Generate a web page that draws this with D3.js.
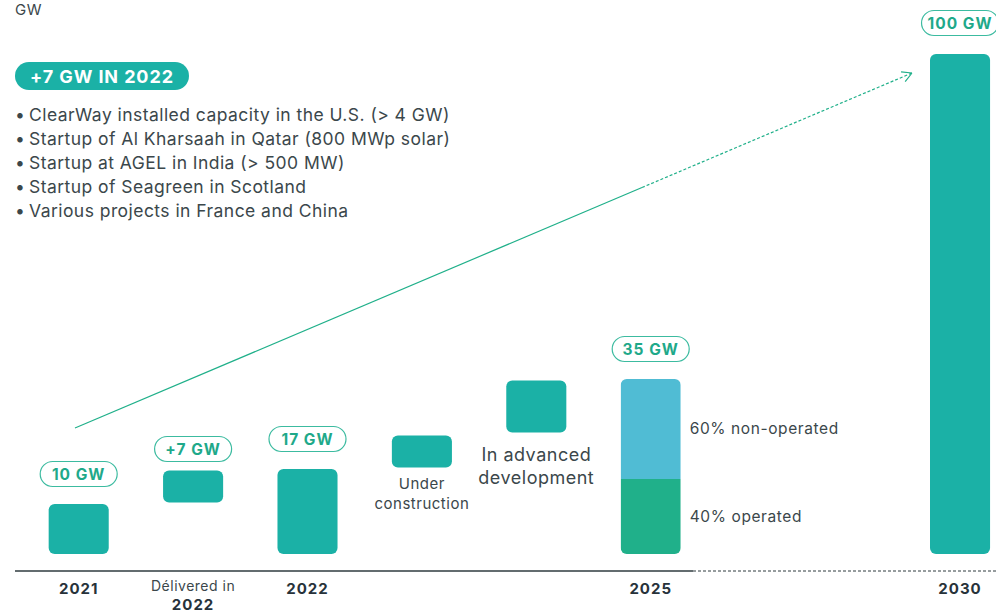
<!DOCTYPE html>
<html>
<head>
<meta charset="utf-8">
<script src="https://cdn.jsdelivr.net/npm/d3@7"></script>
<style>
  body { margin: 0; background: #fff; }
  text { font-family: Inter, "Open Sans", sans-serif; letter-spacing: 0.5px; }
</style>
</head>
<body>
<script>
// Chart data
var categories = ["2021", "Délivered in 2022", "2022", "Under construction", "In advanced development", "2025"];
var startGW = [0, 10, 0, 17, 24, 0];
var endGW = [10, 17, 17, 24, 35, 35];
var pillLabels = ["10 GW", "+7 GW", "17 GW", "", "", "35 GW"];
var axisLabels = [["2021"], ["Délivered in", "2022"], ["2022"], [], [], ["2025"]];
var boxLabels = [[], [], [], ["Under", "construction"], ["In advanced", "development"], []];

var targetLabel = "2030";
var targetGW = 100;
var targetPill = "100 GW";

// 2025 split
var splitNames = ["40% operated", "60% non-operated"];
var splitGW = [15, 20];

var headline = "+7 GW IN 2022";
var highlights = [
  "ClearWay installed capacity in the U.S. (> 4 GW)",
  "Startup of Al Kharsaah in Qatar (800 MWp solar)",
  "Startup at AGEL in India (> 500 MW)",
  "Startup of Seagreen in Scotland",
  "Various projects in France and China"
];

var svgWidth = 996;
var svgHeight = 614;

var teal = "#1bb1a6", blue = "#50bcd4", green = "#20b08a", pillText = "#1fa98a", grey = "#3b474b";

var svg = d3.select("body")
            .append("svg")
            .attr("width", svgWidth)
            .attr("height", svgHeight);

// Scales
var yScale = d3.scaleLinear().domain([0, 100]).range([554, 54]);

var xScale = d3.scaleBand()
               .domain(categories)
               .range([21.5, 21.5 + 6 * 114.4])
               .paddingInner(0.475)
               .paddingOuter(0.2375);

var barW = xScale.bandwidth();
var x2030 = 930;
var gap = 1.5;

// Unit label
svg.append("text")
   .attr("x", 15).attr("y", 15)
   .attr("font-size", 15).attr("fill", grey)
   .text("GW");

// Headline pill
svg.append("rect")
   .attr("x", 15).attr("y", 62).attr("width", 174).attr("height", 28)
   .attr("rx", 14).attr("fill", teal);
svg.append("text")
   .attr("x", 102).attr("y", 82.5)
   .attr("text-anchor", "middle")
   .attr("font-size", 18).attr("font-weight", "bold").attr("fill", "#fff")
   .style("letter-spacing", "0.9px")
   .text(headline);

// Bullet list
var bullets = svg.append("g").selectAll("g")
                 .data(highlights).enter().append("g")
                 .attr("transform", (d, i) => `translate(0, ${121 + i * 24})`);
bullets.append("text").attr("x", 15).attr("font-size", 17.5).attr("fill", grey).text("•");
bullets.append("text").attr("x", 29).attr("font-size", 17.5).attr("fill", grey)
       .style("letter-spacing", "0.45px").text(d => d);

// Trend arrow
var arrowStart = [75, 428], arrowEnd = [912, 73], dashFrom = 642;
var slope = (arrowEnd[1] - arrowStart[1]) / (arrowEnd[0] - arrowStart[0]);
var dashY = arrowStart[1] + slope * (dashFrom - arrowStart[0]);
svg.append("line")
   .attr("x1", arrowStart[0]).attr("y1", arrowStart[1])
   .attr("x2", dashFrom).attr("y2", dashY)
   .attr("stroke", green).attr("stroke-width", 1.2);
svg.append("line")
   .attr("x1", dashFrom).attr("y1", dashY)
   .attr("x2", arrowEnd[0]).attr("y2", arrowEnd[1])
   .attr("stroke", green).attr("stroke-width", 1.2)
   .attr("stroke-dasharray", "3,2");
var ang = Math.atan2(arrowEnd[1] - arrowStart[1], arrowEnd[0] - arrowStart[0]);
var head = d3.path();
[ -0.5, 0.5 ].forEach(function(o) {
  head.moveTo(arrowEnd[0] - 11 * Math.cos(ang + o), arrowEnd[1] - 11 * Math.sin(ang + o));
  head.lineTo(arrowEnd[0], arrowEnd[1]);
});
svg.append("path").attr("d", head.toString())
   .attr("fill", "none").attr("stroke", green).attr("stroke-width", 1.2);

// Bars
var bars = categories.map((c, i) => ({ cat: c, s: startGW[i], e: endGW[i], pill: pillLabels[i],
                                        axis: axisLabels[i], box: boxLabels[i] }));

svg.selectAll(".bar")
   .data(bars.filter(d => d.cat !== "2025"))
   .enter().append("rect")
   .attr("class", "bar")
   .attr("x", d => xScale(d.cat))
   .attr("y", d => yScale(d.e) + (d.s > 0 ? gap : 0))
   .attr("width", barW)
   .attr("height", d => yScale(d.s) - yScale(d.e) - (d.s > 0 ? 2 * gap : 0))
   .attr("rx", 6)
   .attr("fill", teal);

// 2025 stacked bar
var x2025 = xScale("2025");
var clip = svg.append("clipPath").attr("id", "clip2025")
              .append("rect")
              .attr("x", x2025).attr("y", yScale(35))
              .attr("width", barW).attr("height", yScale(0) - yScale(35))
              .attr("rx", 6);
var stackData = [];
var acc = 0;
splitGW.forEach(function(v, i) { stackData.push({ name: splitNames[i], s: acc, e: acc + v }); acc += v; });
svg.append("g").attr("clip-path", "url(#clip2025)")
   .selectAll("rect").data(stackData).enter().append("rect")
   .attr("x", x2025)
   .attr("y", d => yScale(d.e))
   .attr("width", barW)
   .attr("height", d => yScale(d.s) - yScale(d.e))
   .attr("fill", (d, i) => i === 0 ? green : blue);
svg.selectAll(".split-label").data(stackData).enter().append("text")
   .attr("x", x2025 + barW + 9)
   .attr("y", d => (yScale(d.s) + yScale(d.e)) / 2 + 5)
   .attr("font-size", 15.5).attr("fill", grey)
   .style("letter-spacing", "0.6px")
   .text(d => d.name);

// 2030 bar
svg.append("rect")
   .attr("x", x2030).attr("y", yScale(targetGW))
   .attr("width", barW).attr("height", yScale(0) - yScale(targetGW))
   .attr("rx", 6).attr("fill", teal);

// Value pills
var pills = bars.filter(d => d.pill).map(d => ({ text: d.pill, cx: xScale(d.cat) + barW / 2, top: yScale(d.e),
                                                 off: d.s > 0 ? 20 : 30 }));
pills.push({ text: targetPill, cx: x2030 + barW / 2, top: yScale(targetGW), off: 31 });
var pg = svg.selectAll(".pill").data(pills).enter().append("g")
            .attr("transform", d => `translate(${d.cx}, ${d.top - d.off})`);
pg.append("rect")
  .attr("x", -38.5).attr("y", -12.5).attr("width", 77).attr("height", 25).attr("rx", 12.5)
  .attr("fill", "#fff").attr("stroke", "#3cbba0").attr("stroke-width", 1.2);
pg.append("text")
  .attr("text-anchor", "middle").attr("y", 5.5)
  .attr("font-size", 15.5).attr("font-weight", "bold").attr("fill", pillText)
  .style("letter-spacing", "1px")
  .text(d => d.text);

// Box captions
var boxSizes = { "Under construction": 15, "In advanced development": 18 };
bars.filter(d => d.box.length).forEach(function(d) {
  var fs = boxSizes[d.cat];
  var t = svg.append("text")
             .attr("text-anchor", "middle")
             .attr("font-size", fs).attr("fill", grey);
  d.box.forEach(function(line, j) {
    t.append("tspan").attr("x", xScale(d.cat) + barW / 2)
     .attr("y", yScale(d.s) + (fs > 15 ? 27 : 20) + j * (fs + 5))
     .text(line);
  });
});

// Axis line
var axisY = 571;
svg.append("line").attr("x1", 15).attr("x2", 693).attr("y1", axisY).attr("y2", axisY)
   .attr("stroke", "#2f3b3f").attr("stroke-width", 1.3);
svg.append("line").attr("x1", 693).attr("x2", svgWidth).attr("y1", axisY).attr("y2", axisY)
   .attr("stroke", "#2f3b3f").attr("stroke-width", 1).attr("stroke-dasharray", "3,2");

// Axis labels
var axisItems = bars.filter(d => d.axis.length).map(d => ({ lines: d.axis, cx: xScale(d.cat) + barW / 2 }));
axisItems.push({ lines: [targetLabel], cx: x2030 + barW / 2 });
axisItems.forEach(function(d) {
  d.lines.forEach(function(line, j) {
    var regular = d.lines.length > 1 && j === 0;
    svg.append("text")
       .attr("x", d.cx).attr("y", regular ? 591 : 594 + j * 16)
       .attr("text-anchor", "middle")
       .attr("font-size", regular ? 14 : 15)
       .attr("font-weight", regular ? "normal" : "bold")
       .attr("fill", regular ? grey : "#27323a")
       .style("letter-spacing", regular ? "0.5px" : "1px")
       .text(line);
  });
});
</script>
</body>
</html>
